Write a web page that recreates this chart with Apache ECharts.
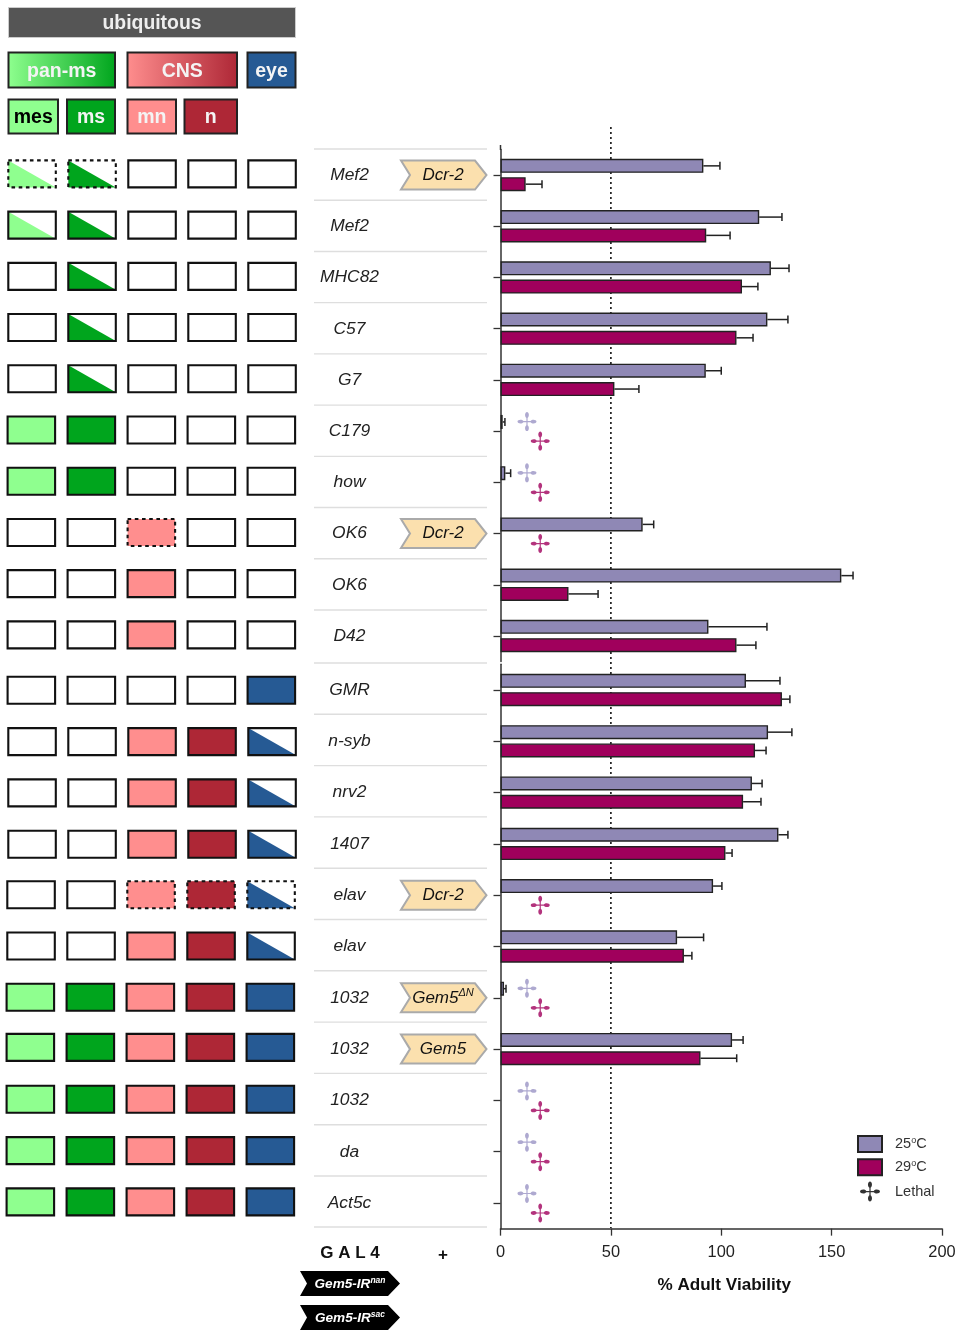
<!DOCTYPE html>
<html><head><meta charset="utf-8">
<style>html,body{margin:0;padding:0;background:#fff}#c{width:956px;height:1331px}</style>
<script src="https://cdn.jsdelivr.net/npm/echarts@6/dist/echarts.min.js"></script>
</head><body><div id="c"></div>
<script>
const drivers=['Mef2','Mef2','MHC82','C57','G7','C179','how','OK6','OK6','D42','GMR','n-syb','nrv2','1407','elav','elav','1032','1032','1032','da','Act5c'];
const viability25=[91.9,117.2,122.5,120.9,93,1,2.2,64.4,154.4,94.2,111.2,121.2,113.9,125.9,96.3,80,1.6,104.9,null,null,null];
const errorTop25=[99.4,127.5,130.7,130.2,100,2,4.6,69.4,159.7,120.7,126.6,132,118.5,130.2,100.3,92,2.5,109.9,null,null,null];
const viability29=[11.4,93.2,109.4,106.9,51.6,null,null,null,30.8,106.9,127.5,115.3,109.9,101.9,null,83.1,null,90.6,null,null,null];
const errorTop29=[18.8,104,116.6,114.4,62.7,null,null,null,44.2,115.7,131.1,120.3,118,104.9,null,86.7,null,107,null,null,null];
const lethalRows25=[5,6,16,18,19,20];
const lethalRows29=[5,6,7,14,16,18,19,20];
const tags={0:'Dcr-2',7:'Dcr-2',14:'Dcr-2',16:'Gem5|ΔN',17:'Gem5'};
// tissue columns: mes, ms, mn, n, eye. 0 empty, 1 full, 2 partial, 3 full dashed, 4 partial dashed
const tissues=['44000','22000','02000','02000','02000','11000','11000','00300','00100','00100','00001','00112','00112','00112','00334','00112','11111','11111','11111','11111','11111'];
const tissueColors=['#8fff8f','#00a51d','#ff8e8e','#ae2736','#265a94'];
const xTicks={min:0,max:200,interval:50};
const lethalMark25=12, lethalMark29=18, referenceLine=50;

const FONT='"Liberation Sans",Arial,sans-serif';
const PURPLE='#8f88b5', MAGENTA='#a0005c', LILAC='#9a93c4';
const boxLeft=i=>i<5?8.3:i<11?7.6:i<14?8.3:i<16?7.3:6.6;
const boxNudge=i=>(i>=10&&i<=13)?1.4:(i===17?-0.6:(i>=14&&i<=16)?0.6:0);
const LETHAL='path://M47 50L47 32C36 24 40 2 50 2C60 2 64 24 53 32L53 50ZM50 47L68 47C76 36 98 40 98 50C98 60 76 64 68 53L50 53ZM53 50L53 68C64 76 60 98 50 98C40 98 36 76 47 68L47 50ZM50 53L32 53C24 64 2 60 2 50C2 40 24 36 32 47L50 47Z';
const SWATCH='path://M0 0H24V16H0Z';

const grids=[{left:500.5,width:441.5,top:149.4,height:512.2,outerBoundsMode:'none'},{left:500.5,width:441.5,top:664.35,height:564.3,outerBoundsMode:'none'}];
const ranges=[[0,10],[10,21]];
const xAxes=[],yAxes=[],series=[];

function rowsItem(base,sepOffset,isLast){return function(params,api){
  const local=api.value(1), i=base+local;
  const p=api.coord([0,local]); const cy=p[1];
  const ch=[];
  ch.push({type:'line',shape:{x1:314,y1:cy+sepOffset,x2:487,y2:cy+sepOffset},style:{stroke:'#dedede',lineWidth:1.4}});
  if(isLast(local)) ch.push({type:'line',shape:{x1:314,y1:cy+24,x2:487,y2:cy+24},style:{stroke:'#dedede',lineWidth:1.4}});
  const left=boxLeft(i);
  for(let c=0;c<5;c++){
    const s=+tissues[i][c], x=left+c*60, y=cy-14.6+boxNudge(i), w=47.5, h=27;
    if(s===1||s===3) ch.push({type:'rect',shape:{x,y,width:w,height:h},style:{fill:tissueColors[c]}});
    if(s===2||s===4) ch.push({type:'polygon',shape:{points:[[x,y],[x,y+h],[x+w,y+h]]},style:{fill:tissueColors[c]}});
    ch.push({type:'rect',shape:{x,y,width:w,height:h},style:{fill:'none',stroke:'#111',lineWidth:2.1,lineDash:s>=3?[3.6,3.6]:null}});
  }
  if(tags[i]){
    const parts=tags[i].split('|');
    ch.push({type:'polygon',shape:{points:[[401,cy-14.5],[475,cy-14.5],[486.5,cy],[475,cy+14.5],[401,cy+14.5],[410,cy]]},style:{fill:'#fbe0ae',stroke:'#aaaaaa',lineWidth:2}});
    const text=parts.length>1?'{a|'+parts[0]+'}{s|'+parts[1]+'}':'{a|'+parts[0]+'}';
    ch.push({type:'text',x:443,y:cy,style:{text,align:'center',verticalAlign:'middle',rich:{
      a:{fontFamily:FONT,fontStyle:'italic',fontSize:17,fill:'#111',lineHeight:20},
      s:{fontFamily:FONT,fontStyle:'italic',fontSize:11,fill:'#111',verticalAlign:'top',lineHeight:20}}}});
  }
  return {type:'group',children:ch};
};}

function errorItem(offset){return function(params,api){
  const a=api.coord([api.value(2),api.value(1)]), b=api.coord([api.value(0),api.value(1)]), y=a[1]+offset;
  return {type:'group',children:[
    {type:'line',shape:{x1:a[0],y1:y,x2:b[0],y2:y},style:{stroke:'#222',lineWidth:1.5}},
    {type:'line',shape:{x1:b[0],y1:y-4,x2:b[0],y2:y+4},style:{stroke:'#222',lineWidth:1.5}}]};
};}

ranges.forEach(([from,to],g)=>{
  const cats=drivers.slice(from,to), idx=cats.map((_,k)=>k);
  xAxes.push(Object.assign({gridIndex:g,type:'value',show:g===1,position:'bottom',
    axisLine:{show:true,lineStyle:{color:'#333',width:1.5}},axisTick:{show:true,length:7,lineStyle:{color:'#333',width:1.3}},
    axisLabel:{fontFamily:FONT,fontSize:16.4,color:'#222',margin:16},splitLine:{show:false},
    name:g===1?'% Adult Viability':'',nameLocation:'middle',nameGap:48,
    nameTextStyle:{fontFamily:FONT,fontWeight:'bold',fontSize:17.1,color:'#111',padding:[0,0,0,6]}},xTicks));
  yAxes.push({gridIndex:g,type:'category',inverse:true,data:cats,
    axisLine:{show:true,onZero:false,lineStyle:{color:'#333',width:1.5}},
    axisTick:{show:true,alignWithLabel:true,length:7,lineStyle:{color:'#333',width:1.3}},
    axisLabel:{fontFamily:FONT,fontStyle:'italic',fontSize:17.4,color:'#222',align:'center',margin:151,interval:0},splitLine:{show:false}});
  const base={xAxisIndex:g,yAxisIndex:g};
  series.push(Object.assign({},base,{type:'custom',silent:true,z:1,renderItem:rowsItem(from,g===0?-26:-27,l=>g===1&&l===cats.length-1),
    data:idx.map(k=>[0,k]),encode:{x:0,y:1}}));
  const bar={type:'bar',barWidth:14,barGap:'31%',z:3};
  series.push(Object.assign({},base,bar,{name:'25C',data:viability25.slice(from,to),itemStyle:{color:PURPLE,borderColor:'#222',borderWidth:1.4}}));
  series.push(Object.assign({},base,bar,{name:'29C',data:viability29.slice(from,to),itemStyle:{color:MAGENTA,borderColor:'#222',borderWidth:1.4}}));
  const errs=(e,v)=>idx.filter(k=>e[from+k]!=null).map(k=>[e[from+k],k,v[from+k]]);
  series.push(Object.assign({},base,{type:'custom',silent:true,z:2,renderItem:errorItem(-9.15),data:errs(errorTop25,viability25),encode:{x:0,y:1}}));
  series.push(Object.assign({},base,{type:'custom',silent:true,z:2,renderItem:errorItem(9.15),data:errs(errorTop29,viability29),encode:{x:0,y:1}}));
  const leth=(rows,m)=>rows.filter(r=>r>=from&&r<to).map(r=>[m,r-from]);
  series.push(Object.assign({},base,{type:'scatter',silent:true,symbol:LETHAL,symbolSize:19,symbolOffset:[0,-9.5],z:4,itemStyle:{color:LILAC},data:leth(lethalRows25,lethalMark25)}));
  series.push(Object.assign({},base,{type:'scatter',silent:true,symbol:LETHAL,symbolSize:19,symbolOffset:[0,10],z:4,itemStyle:{color:MAGENTA},data:leth(lethalRows29,lethalMark29)}));
});
// dotted 50 % reference drawn behind the bars
series.push({type:'custom',xAxisIndex:1,yAxisIndex:1,silent:true,z:0,data:[[referenceLine,0]],encode:{x:0,y:1},
  renderItem:(p,api)=>{const x=api.coord([api.value(0),0])[0];
    return {type:'line',shape:{x1:x,y1:127,x2:x,y2:1228},style:{stroke:'#222',lineWidth:1.7,lineDash:[1.9,3.1]}};}});
series.push({name:'Lethal',type:'scatter',xAxisIndex:1,yAxisIndex:1,symbol:LETHAL,symbolSize:19,itemStyle:{color:'#000'},data:[]});

function box(x,y,w,h,fill,label,color,fs,dy){
  return [{type:'rect',shape:{x,y,width:w,height:h},style:{fill,stroke:'#222',lineWidth:2}},
    {type:'text',x:x+w/2,y:y+h/2+dy,style:{text:label,align:'center',verticalAlign:'middle',fill:color,fontFamily:FONT,fontWeight:'bold',fontSize:fs}}];
}
const grad=(a,b)=>new echarts.graphic.LinearGradient(0,0,1,0,[{offset:0,color:a},{offset:1,color:b}]);
function blackTag(y,sup){
  return [{type:'polygon',shape:{points:[[300,y],[388,y],[400,y+12.5],[388,y+25],[300,y+25],[307,y+12.5]]},style:{fill:'#000'}},
    {type:'text',x:350,y:y+13,style:{text:'{a|Gem5-IR}{s|'+sup+'}',align:'center',verticalAlign:'middle',rich:{
      a:{fontFamily:FONT,fontStyle:'italic',fontWeight:'bold',fontSize:13.6,fill:'#fff',lineHeight:15},
      s:{fontFamily:FONT,fontStyle:'italic',fontWeight:'bold',fontSize:8.5,fill:'#fff',verticalAlign:'top',lineHeight:15}}}}];
}
const graphics=[
  {type:'rect',shape:{x:8.5,y:7.5,width:287,height:30},style:{fill:'#555',stroke:'#ccc',lineWidth:1}},
  {type:'text',x:152,y:24,style:{text:'ubiquitous',align:'center',verticalAlign:'middle',fill:'#eee',fontFamily:FONT,fontWeight:'bold',fontSize:19.4}},
  ...box(8.5,52.5,106.5,35,grad('#8fff8f','#00a51d'),'pan-ms','#f4f4f4',19.5,2),
  ...box(127.5,52.5,109.5,35,grad('#ff8e8e','#ae2736'),'CNS','#f4f4f4',19.5,2),
  ...box(247.5,52.5,48,35,'#265a94','eye','#f4f4f4',19.5,2),
  ...box(8.5,99.5,49.5,34,'#8fff8f','mes','#000',19.5,1.5),
  ...box(67,99.5,48,34,'#00a51d','ms','#f4f4f4',19.5,1.5),
  ...box(127.5,99.5,48.5,34,'#ff8e8e','mn','#f4f4f4',19.5,1.5),
  ...box(184.5,99.5,52.5,34,'#ae2736','n','#f4f4f4',19.5,1.5),
  {type:'line',shape:{x1:500.5,y1:145,x2:500.5,y2:150},style:{stroke:'#333',lineWidth:1.5}},
  {type:'text',x:350,y:1253,style:{text:'G A L 4',align:'center',verticalAlign:'middle',fill:'#111',fontFamily:FONT,fontWeight:'bold',fontSize:17}},
  {type:'text',x:443,y:1255,style:{text:'+',align:'center',verticalAlign:'middle',fill:'#111',fontFamily:FONT,fontWeight:'bold',fontSize:17}},
  ...blackTag(1271,'nan'),...blackTag(1305,'sac')
];
const legendText={'25C':'{a|25}{s|o}{a|C}','29C':'{a|29}{s|o}{a|C}','Lethal':'{a|Lethal}'};
const chart=echarts.init(document.getElementById('c'),null,{renderer:'canvas'});
chart.setOption({
  animation:false,backgroundColor:'#fff',grid:grids,xAxis:xAxes,yAxis:yAxes,series,graphic:{elements:graphics},
  legend:{left:857,top:1135,padding:0,orient:'vertical',itemWidth:24,itemHeight:20,itemGap:5.3,selectedMode:false,
    data:[{name:'25C',icon:SWATCH},{name:'29C',icon:SWATCH},{name:'Lethal',icon:LETHAL}],formatter:n=>legendText[n],
    textStyle:{padding:[0,0,0,8],rich:{a:{fontFamily:FONT,fontSize:14.5,color:'#333',lineHeight:16},s:{fontFamily:FONT,fontSize:9,color:'#333',verticalAlign:'top',lineHeight:16}}}}
});
</script></body></html>
